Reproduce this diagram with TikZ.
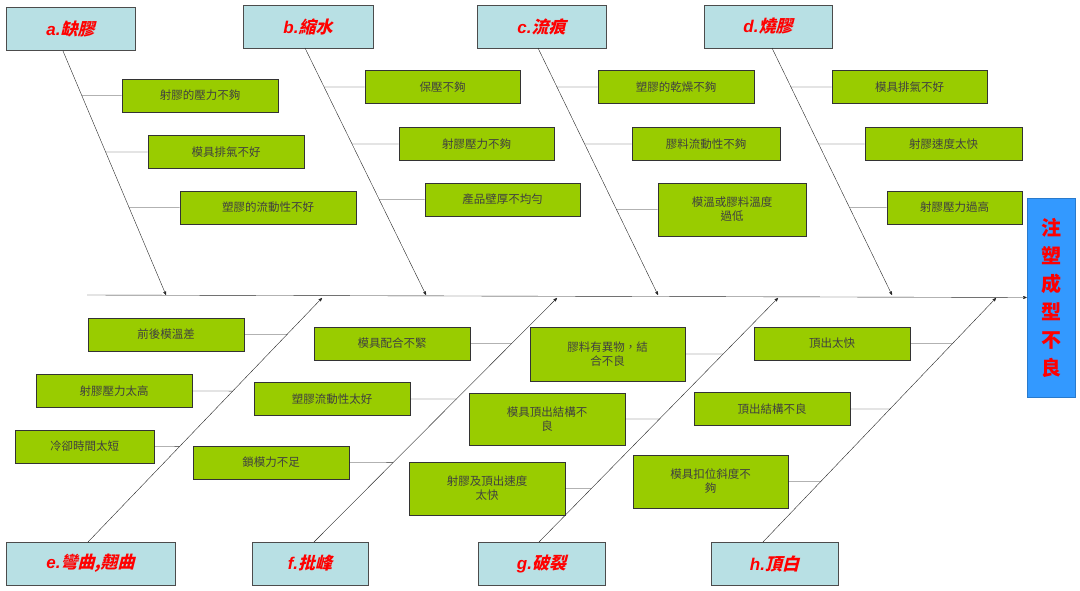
\documentclass[tikz,border=0pt]{standalone}
\usepackage{fontspec}
\setmainfont{Liberation Sans}
\newfontfamily\cjk{Noto Sans CJK TC}
\newfontfamily\cjkit[FakeSlant=0.25]{Noto Sans CJK TC}
\usetikzlibrary{arrows}
\definecolor{cause}{HTML}{99CC00}
\definecolor{head}{HTML}{B8E0E4}
\definecolor{effect}{HTML}{3399FF}

\begin{document}
\begin{tikzpicture}[x=1pt,y=-1pt,>=stealth',semithick]
        \tikzstyle{causebox}=[draw=black!80,fill=cause,minimum width=156pt,minimum height=33pt,inner sep=1pt,align=center,font=\cjk\fontsize{11.5}{14}\selectfont,text=black!75]
        \tikzstyle{headbox}=[draw=black!70,fill=head,minimum height=43pt,inner sep=2pt,text=red,font=\fontsize{17}{20}\selectfont\bfseries\itshape]
        \tikzstyle{bone}=[black!85,thin]
        \useasboundingbox (0,0) rectangle (1080,591);

        % headings
        \node[headbox,minimum width=129pt] (a) at (70.5,29)   {a.{\cjkit 缺膠}};
        \node[headbox,minimum width=130pt] (b) at (308,26.5)  {b.{\cjkit 縮水}};
        \node[headbox,minimum width=129pt] (c) at (541.5,26.5){c.{\cjkit 流痕}};
        \node[headbox,minimum width=128pt] (d) at (768,26.5)  {d.{\cjkit 燒膠}};
        \node[headbox,minimum width=169pt] (e) at (90.5,563.5) {e.{\cjkit 彎曲,翹曲}};
        \node[headbox,minimum width=116pt] (f) at (310,563.5) {f.{\cjkit 批峰}};
        \node[headbox,minimum width=127pt] (g) at (541.5,563.5){g.{\cjkit 破裂}};
        \node[headbox,minimum width=127pt] (h) at (774.5,563.5){h.{\cjkit 頂白}};
        \node[fill=effect,draw=effect!80!black,minimum width=48pt,minimum height=199pt,text=red,align=center,
              font=\cjk\fontsize{20}{28}\selectfont\bfseries] (eff) at (1051,297.5) {注\\塑\\成\\型\\不\\良};

        % spine and bones
        \coordinate (s0) at (87,295);
        \draw[->,bone] (s0) -- (eff.west);
        \coordinate (a0) at (63,51);  \coordinate (ta) at (166,295);
        \coordinate (b0) at (305,48); \coordinate (tb) at (426,295);
        \coordinate (c0) at (538,48); \coordinate (tc) at (658,295);
        \coordinate (d0) at (772,48); \coordinate (td) at (892,295);
        \coordinate (e0) at (88,542);  \coordinate (te) at (322,298);
        \coordinate (f0) at (314,542); \coordinate (tf) at (557,298);
        \coordinate (g0) at (539,542); \coordinate (tg) at (778,298);
        \coordinate (h0) at (763,542); \coordinate (th) at (996,298);
        \foreach \n in {a,b,c,d,e,f,g,h}
            \draw[->,bone] (\n0) -- (t\n);

        % causes, top
        \node[causebox] (a1) at (200,95.5)  {射膠的壓力不夠};
        \node[causebox] (a2) at (226,152)   {模具排氣不好};
        \node[causebox,minimum width=176pt] (a3) at (268,207.5) {塑膠的流動性不好};
        \node[causebox,minimum width=155pt] (b1) at (442.5,87)  {保壓不夠};
        \node[causebox,minimum width=155pt] (b2) at (476.5,144) {射膠壓力不夠};
        \node[causebox,minimum width=155pt] (b3) at (502.5,199.5) {產品壁厚不均勻};
        \node[causebox] (c1) at (676,87)   {塑膠的乾燥不夠};
        \node[causebox,minimum width=148pt] (c2) at (706,144) {膠料流動性不夠};
        \node[causebox,minimum width=148pt,minimum height=53pt] (c3) at (732,209.5) {模溫或膠料溫度\\過低};
        \node[causebox,minimum width=155pt] (d1) at (909.5,87) {模具排氣不好};
        \node[causebox,minimum width=157pt] (d2) at (943.5,144) {射膠速度太快};
        \node[causebox,minimum width=135pt] (d3) at (954.5,207.5) {射膠壓力過高};

        % causes, bottom
        \node[causebox] (e1) at (166,334.5) {前後模溫差};
        \node[causebox] (e2) at (114,391)   {射膠壓力太高};
        \node[causebox,minimum width=139pt] (e3) at (84.5,446.5) {冷卻時間太短};
        \node[causebox] (f1) at (392,343.5) {模具配合不緊};
        \node[causebox] (f2) at (332,399)   {塑膠流動性太好};
        \node[causebox] (f3) at (271,462.5) {鎖模力不足};
        \node[causebox,minimum width=155pt,minimum height=54pt] (g1) at (607.5,354) {膠料有異物，結\\合不良};
        \node[causebox,minimum width=156pt,minimum height=52pt] (g2) at (547,419) {模具頂出結構不\\良};
        \node[causebox,minimum width=156pt,minimum height=53pt] (g3) at (487,488.5) {射膠及頂出速度\\太快};
        \node[causebox] (h1) at (832,343.5) {頂出太快};
        \node[causebox] (h2) at (772,409)   {頂出結構不良};
        \node[causebox,minimum width=155pt,minimum height=53pt] (h3) at (710.5,481.5) {模具扣位斜度不\\夠};

        % twigs
        \draw[bone] (a1.west) -- (intersection of a0--ta and a1.west--a1.east);
        \draw[bone] (a2.west) -- (intersection of a0--ta and a2.west--a2.east);
        \draw[bone] (a3.west) -- (intersection of a0--ta and a3.west--a3.east);
        \draw[bone] (b1.west) -- (intersection of b0--tb and b1.west--b1.east);
        \draw[bone] (b2.west) -- (intersection of b0--tb and b2.west--b2.east);
        \draw[bone] (b3.west) -- (intersection of b0--tb and b3.west--b3.east);
        \draw[bone] (c1.west) -- (intersection of c0--tc and c1.west--c1.east);
        \draw[bone] (c2.west) -- (intersection of c0--tc and c2.west--c2.east);
        \draw[bone] (c3.west) -- (intersection of c0--tc and c3.west--c3.east);
        \draw[bone] (d1.west) -- (intersection of d0--td and d1.west--d1.east);
        \draw[bone] (d2.west) -- (intersection of d0--td and d2.west--d2.east);
        \draw[bone] (d3.west) -- (intersection of d0--td and d3.west--d3.east);
        \draw[bone] (e1.east) -- (intersection of e0--te and e1.west--e1.east);
        \draw[bone] (e2.east) -- (intersection of e0--te and e2.west--e2.east);
        \draw[bone] (e3.east) -- (intersection of e0--te and e3.west--e3.east);
        \draw[bone] (f1.east) -- (intersection of f0--tf and f1.west--f1.east);
        \draw[bone] (f2.east) -- (intersection of f0--tf and f2.west--f2.east);
        \draw[bone] (f3.east) -- (intersection of f0--tf and f3.west--f3.east);
        \draw[bone] (g1.east) -- (intersection of g0--tg and g1.west--g1.east);
        \draw[bone] (g2.east) -- (intersection of g0--tg and g2.west--g2.east);
        \draw[bone] (g3.east) -- (intersection of g0--tg and g3.west--g3.east);
        \draw[bone] (h1.east) -- (intersection of h0--th and h1.west--h1.east);
        \draw[bone] (h2.east) -- (intersection of h0--th and h2.west--h2.east);
        \draw[bone] (h3.east) -- (intersection of h0--th and h3.west--h3.east);
    \end{tikzpicture}
\end{document}
